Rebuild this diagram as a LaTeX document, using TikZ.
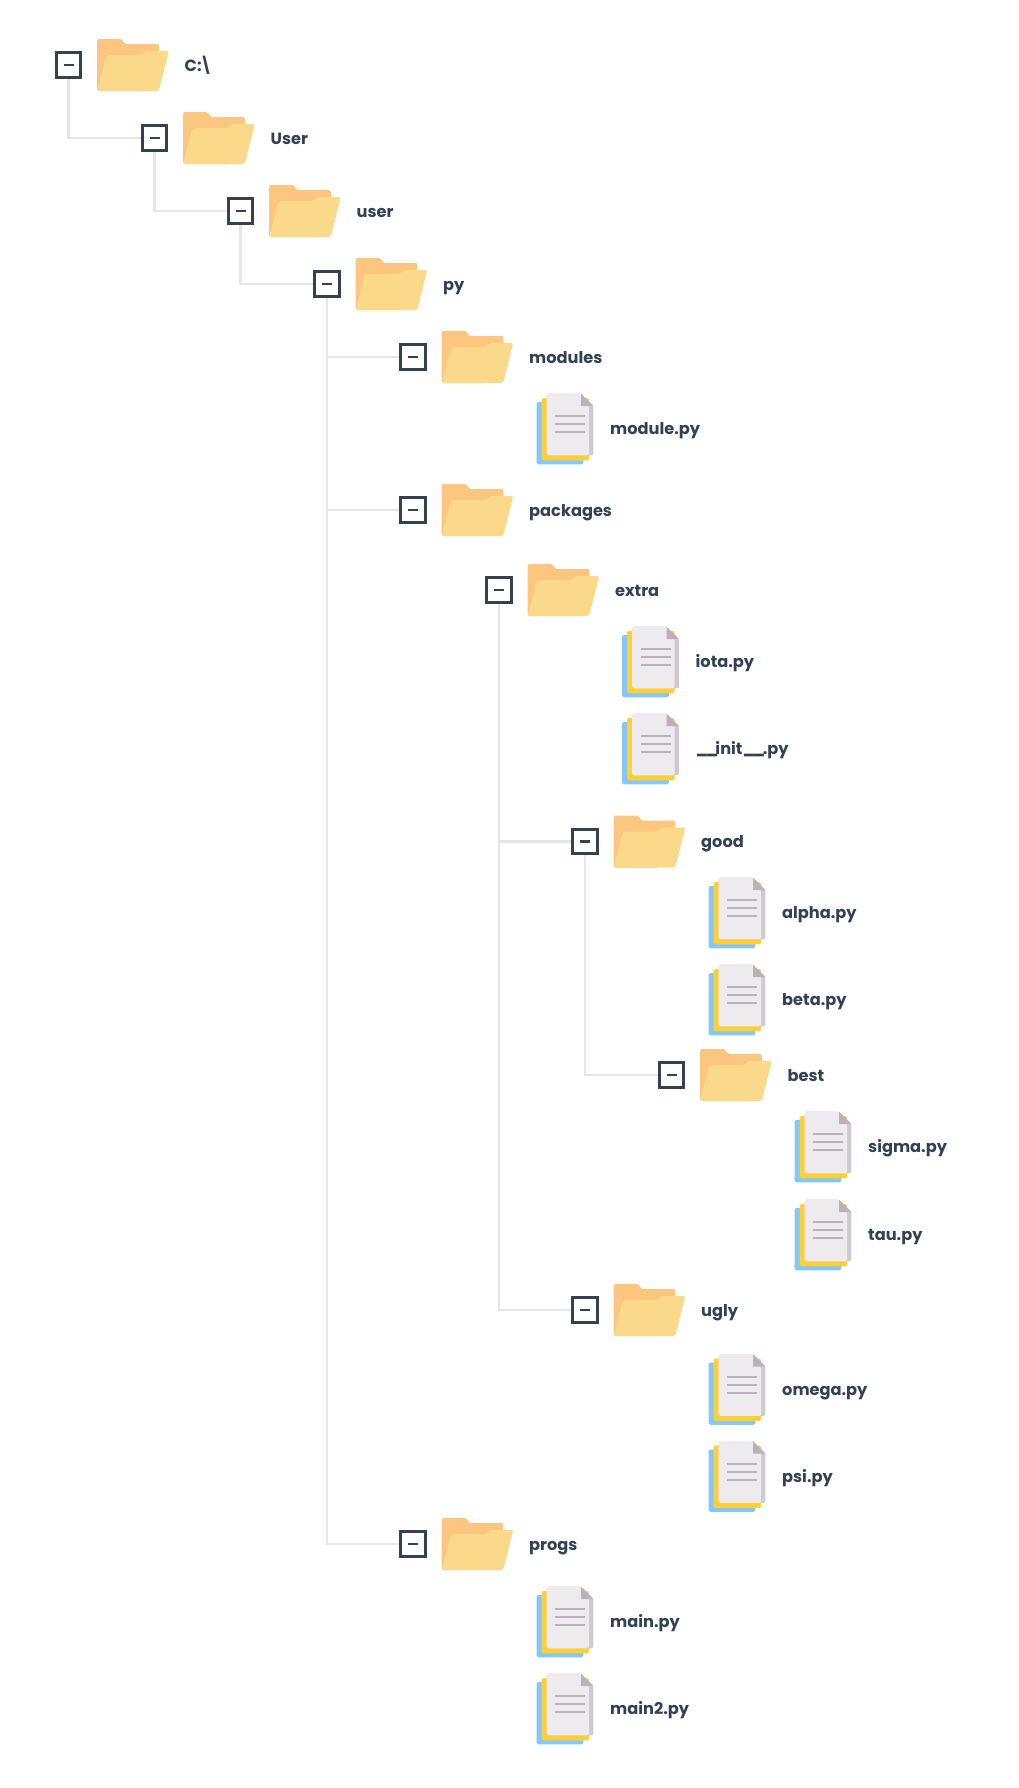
\documentclass[tikz,border=0pt]{standalone}
\usepackage{fontspec}
\setmainfont{Poppins}
\usetikzlibrary{calc,backgrounds}

\definecolor{inkblue}{HTML}{334155}
\definecolor{treeline}{HTML}{E6E6E6}
\definecolor{folderback}{HTML}{FCC680}
\definecolor{folderfront}{HTML}{FAD98A}
\definecolor{sheetblue}{HTML}{84C7F8}
\definecolor{sheetyellow}{HTML}{FFCF33}
\definecolor{sheetpaper}{HTML}{EEEBEE}
\definecolor{sheetside}{HTML}{CFCAD0}
\definecolor{sheetfold}{HTML}{B9B2BA}

\begin{document}
\begin{tikzpicture}[
  x=1pt, y=-1pt,
  treebox/.style={draw=inkblue, line width=2.8pt, fill=white, minimum size=24.5pt, inner sep=0pt, outer sep=0pt,
    path picture={\draw[inkblue, line width=2.4pt] (path picture bounding box.center) ++(-5,0) -- ++(10,0);}},
  conn/.style={draw=treeline, line width=2.3pt},
  foldername/.style={anchor=base west, font=\fontsize{16.2}{18}\selectfont\bfseries, text=inkblue, inner sep=0pt},
  folder/.pic={
    \fill[folderback, rounded corners=2pt] (-35.8,26) -- (-35.8,-26) -- (-10.5,-26) -- (-9,-21) -- (25.8,-21) -- (25.8,10) -- (10,26) -- cycle;
    \fill[folderfront, rounded corners=2pt] (-35.8,26) -- (-26.5,-10) -- (8.5,-10) -- (12,-14) -- (35.8,-14) -- (25.8,26) -- cycle;
  },
  sheets/.pic={
    \fill[sheetblue, rounded corners=1.5pt] (-28.3,-27) rectangle (18.3,35.3);
    \fill[sheetyellow, rounded corners=1.5pt] (-23.3,-31) rectangle (24,31.3);
    \fill[sheetside, rounded corners=1.5pt] (-18.3,-35.3) -- (16,-35.3) -- (28.3,-23) -- (28.3,26.3) -- (-18.3,26.3) -- cycle;
    \fill[sheetpaper, rounded corners=1.5pt] (-18.3,-35.3) -- (16,-35.3) -- (24,-23) -- (24,26.3) -- (-18.3,26.3) -- cycle;
    \fill[sheetfold] (16,-35.3) -- (28.3,-23) -- (16,-23) -- cycle;
    \foreach \ly in {-13,-5,3} {
      \draw[sheetfold, line width=2pt] (-10,\ly) -- (20,\ly);
    }
  },
]

% --- Folder rows: toggle box, folder icon, name ---
\foreach \nm/\fx/\fy/\txt in {
  root/68.5/65/{C:\kern-2pt\textbackslash},
  usera/154.5/138/User,
  userb/240.5/211/user,
  py/327/284/py,
  modules/413/357/modules,
  packages/413/510/packages,
  extra/499/590/extra,
  good/585/841.5/good,
  best/671.5/1075/best,
  ugly/585/1310/ugly,
  progs/413/1544/progs} {
  \node[treebox] (\nm) at (\fx,\fy) {};
  \pic at ($(\fx,\fy)+(64.5,0)$) {folder};
  \node[foldername] (\nm name) at ($(\fx,\fy)+(116,6)$) {\txt};
}

% --- File rows: stacked sheets and name ---
\foreach \nm/\fx/\fy/\txt in {
  module/565/429/module.py,
  iota/650.5/662/iota.py,
  init/650.5/749/{\raisebox{1.5pt}{\_\kern-2.5pt\_}\kern-3pt init\raisebox{1.5pt}{\_\kern-2.5pt\_}\kern-2.5pt.py},
  alpha/737/913/alpha.py,
  beta/737/1000/beta.py,
  sigma/823/1147/sigma.py,
  tau/823/1235/tau.py,
  omega/737/1389.5/omega.py,
  psi/737/1476.5/psi.py,
  main/565/1622/main.py,
  maintwo/565/1709/main2.py} {
  \pic at (\fx,\fy) {sheets};
  \node[foldername] (\nm name) at ($(\fx,\fy)+(45,5.5)$) {\txt};
}

% --- Tree connectors, behind the boxes ---
\begin{scope}[on background layer]
\fill[white] (0,0) rectangle (1018,1788);
\draw[conn] (root.center) |- (usera.center);
\draw[conn] (usera.center) |- (userb.center);
\draw[conn] (userb.center) |- (py.center);
\draw[conn] (py.center) |- (modules.center);
\draw[conn] (py.center) |- (packages.center);
\draw[conn] (py.center) |- (progs.center);
\draw[conn] (extra.center) |- (good.center);
\draw[conn] (extra.center) |- (ugly.center);
\draw[conn] (good.center) |- (best.center);
\end{scope}

\end{tikzpicture}
\end{document}
